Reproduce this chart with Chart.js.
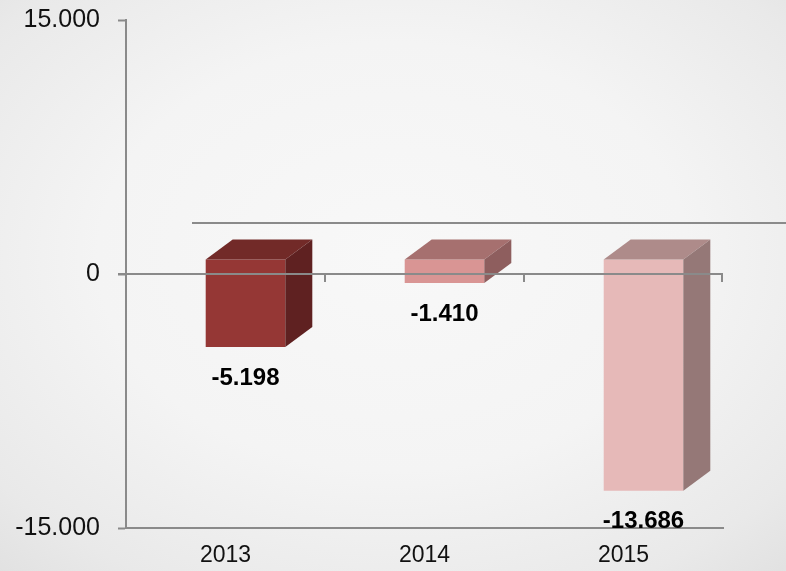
<!DOCTYPE html>
<html><head><meta charset="utf-8">
<script src="https://cdn.jsdelivr.net/npm/chart.js@4.4.1/dist/chart.umd.min.js"></script>
<style>
html,body{margin:0;padding:0;width:786px;height:571px;overflow:hidden;}
body{background: radial-gradient(ellipse 75% 75% at 50% 45%, #f8f8f8 0%, #f4f4f4 50%, #e9e9e9 85%, #e1e1e1 100%);}
#wrap{position:relative;width:786px;height:571px;}
canvas{display:block;}
</style></head><body>
<div id="wrap"><canvas id="c" width="786" height="571"></canvas></div>
<script>
const categories = ['2013', '2014', '2015'];
const values = [-5198, -1410, -13686];
const yTicks = [-15000, 0, 15000];
const frontColors = ['#953735', '#d99594', '#e6b9b8'];
const topColors = ['#722a28', '#a6706f', '#ae8b8a'];
const sideColors = ['#5f2121', '#8e5e5e', '#957877'];
const backLineValue = 3000;

const DX = 27, DY = -20;   // depth of the 3D boxes
const FX = 20, FY = -15;   // shift of the front face
const AXIS = '#8a8a8a';
const FONT = "'Liberation Sans', Arial, sans-serif";

function fmt(v) {
  const s = Math.abs(v).toString().replace(/\B(?=(\d{3})+(?!\d))/g, '.');
  return (v < 0 ? '-' : '') + s;
}

const bar3d = {
  id: 'bar3d',
  beforeDatasetsDraw(chart) { chart.ctx.save(); chart.ctx.translate(FX, FY); },
  afterDatasetsDraw(chart) {
    const ctx = chart.ctx;
    ctx.restore();
    const meta = chart.getDatasetMeta(0);
    const ys = chart.scales.y, xs = chart.scales.x, ca = chart.chartArea;
    meta.data.forEach((bar, i) => {
      const p = bar.getProps(['x', 'y', 'base', 'width'], true);
      const l = p.x - p.width / 2 + FX, r = p.x + p.width / 2 + FX;
      const t = Math.min(p.y, p.base) + FY, b = Math.max(p.y, p.base) + FY;
      ctx.fillStyle = topColors[i];
      ctx.beginPath();
      ctx.moveTo(l, t); ctx.lineTo(l + DX, t + DY); ctx.lineTo(r + DX, t + DY); ctx.lineTo(r, t);
      ctx.closePath(); ctx.fill();
      ctx.fillStyle = sideColors[i];
      ctx.beginPath();
      ctx.moveTo(r, t); ctx.lineTo(r + DX, t + DY); ctx.lineTo(r + DX, b + DY); ctx.lineTo(r, b);
      ctx.closePath(); ctx.fill();
    });
    // zero line
    const y0 = Math.round(ys.getPixelForValue(0));
    ctx.strokeStyle = AXIS; ctx.lineWidth = 2;
    ctx.beginPath(); ctx.moveTo(ca.left - 8, y0); ctx.lineTo(ca.right, y0); ctx.stroke();
    // category separators on the zero line
    const n = categories.length;
    for (let i = 0; i < n; i++) {
      const xb = i < n - 1 ? (xs.getPixelForValue(i) + xs.getPixelForValue(i + 1)) / 2 : ca.right - 1;
      ctx.beginPath(); ctx.moveTo(Math.round(xb), y0); ctx.lineTo(Math.round(xb), y0 + 8); ctx.stroke();
    }
    // back line
    const yb = Math.round(ys.getPixelForValue(backLineValue));
    ctx.beginPath(); ctx.moveTo(ca.left + 66, yb); ctx.lineTo(chart.width, yb); ctx.stroke();
    // data labels
    ctx.fillStyle = '#000';
    ctx.font = 'bold 24px ' + FONT;
    ctx.textAlign = 'center'; ctx.textBaseline = 'middle';
    meta.data.forEach((bar, i) => {
      const p = bar.getProps(['x', 'y', 'base'], true);
      const b = Math.max(p.y, p.base) + FY;
      ctx.fillText(fmt(values[i]), p.x + FX, b + 31);
    });
  }
};

new Chart(document.getElementById('c'), {
  type: 'bar',
  data: {
    labels: categories,
    datasets: [{ data: values, backgroundColor: frontColors, borderWidth: 0, barPercentage: 0.4, categoryPercentage: 1 }]
  },
  options: {
    responsive: false, animation: false, devicePixelRatio: 1,
    layout: { padding: { top: 20, right: 63, bottom: 0, left: 0 } },
    plugins: { legend: { display: false }, tooltip: { enabled: false } },
    scales: {
      x: {
        grid: { display: false, drawTicks: false },
        border: { display: true, color: AXIS, width: 2 },
        ticks: { font: { family: FONT, size: 23 }, color: '#111', padding: 14 },
        afterFit(s) { s.height = 43; }
      },
      y: {
        min: -15000, max: 15000,
        ticks: { stepSize: 15000, callback: v => fmt(v), font: { family: FONT, size: 25 }, color: '#111', padding: 18 },
        afterBuildTicks(s) { s.ticks = yTicks.map(v => ({ value: v })); },
        grid: { drawOnChartArea: false, drawTicks: true, tickLength: 8, tickColor: AXIS, tickWidth: 2 },
        border: { display: true, color: AXIS, width: 2 },
        afterFit(s) { s.width = 126; s.paddingTop = 0; s.paddingBottom = 0; }
      }
    }
  },
  plugins: [bar3d]
});
</script>
</body></html>
